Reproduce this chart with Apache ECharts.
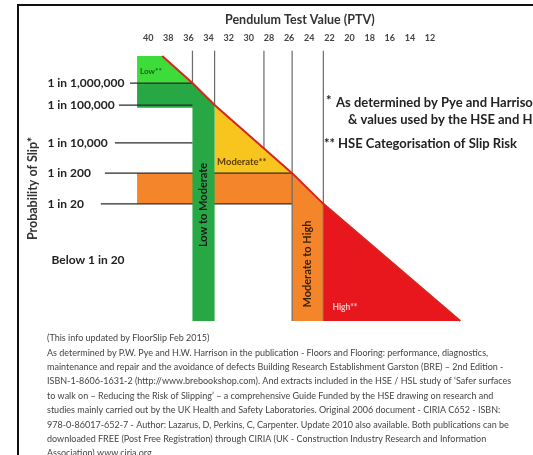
<!DOCTYPE html>
<html>
<head>
<meta charset="utf-8">
<script src="https://cdn.jsdelivr.net/npm/echarts@6/dist/echarts.min.js"></script>
<style>
  html, body { margin: 0; padding: 0; background: #fff; }
  #chart { width: 533px; height: 455px; }
</style>
</head>
<body>
<div id="chart"></div>
<script>
// PTV tick labels along the top
var ptvTicks = [40, 38, 36, 34, 32, 30, 28, 26, 24, 22, 20, 18, 16, 14, 12];

// probability levels (y is a 0..10 schematic scale)
var levelNames = ['1 in 1,000,000', '1 in 100,000', '1 in 10,000', '1 in 200', '1 in 20'];
var levelValues = [8.98, 8.15, 6.72, 5.58, 4.42];
var levelLineFrom = [41.8, 42.9, 43.3, 44.3, 44.7];
var levelLineTo = [35.6, 35.6, 35.6, 25.7, 25.7];

// PTV boundary lines and where they stop
var boundaryPTV = [35.6, 33.4, 28.5, 25.7, 22.6];
var boundaryEnd = [8.98, 8.15, 6.51, 0, 0];

// slip risk curve (PTV, level)
var slipCurve = [[38.6, 10], [35.6, 8.98], [33.4, 8.15], [25.7, 5.58], [22.6, 4.42], [9.0, 0]];

// coloured zones (PTV, level)
var zoneLow = [[41.1, 10], [38.6, 10], [35.6, 8.98], [41.1, 8.98]];
var zoneLowMod = [[41.1, 8.98], [35.6, 8.98], [33.4, 8.15], [33.4, 0], [35.6, 0], [35.6, 8.05], [41.1, 8.05]];
var zoneMod = [[33.4, 8.15], [25.7, 5.58], [33.4, 5.58]];
var zoneModHigh = [[41.1, 5.58], [25.7, 5.58], [22.6, 4.42], [22.6, 0], [25.7, 0], [25.7, 4.42], [41.1, 4.42]];
var zoneHigh = [[22.6, 4.42], [9.0, 0], [22.6, 0]];

var noteText = [
  '(This info updated by FloorSlip Feb 2015)',
  'As determined by P.W. Pye and H.W. Harrison in the publication - Floors and Flooring: performance, diagnostics,',
  'maintenance and repair and the avoidance of defects Building Research Establishment Garston (BRE) \u2013 2nd Edition -',
  'ISBN-1-8606-1631-2 (http://www.brebookshop.com). And extracts included in the HSE / HSL study of \u2018Safer surfaces',
  'to walk on \u2013 Reducing the Risk of Slipping\u2019 \u2013 a comprehensive Guide Funded by the HSE drawing on research and',
  'studies mainly carried out by the UK Health and Safety Laboratories. Original 2006 document - CIRIA C652 - ISBN:',
  '978-0-86017-652-7 - Author: Lazarus, D, Perkins, C, Carpenter. Update 2010 also available. Both publications can be',
  'downloaded FREE (Post Free Registration) through CIRIA (UK - Construction Industry Research and Information',
  'Association) www.ciria.org'
];

var FONT = 'Lato, "Open Sans", sans-serif';

function polySeries(zones, colors, z) {
  return {
    type: 'custom',
    z: z,
    silent: true,
    data: zones.map(function (p) { return p[0]; }),
    renderItem: function (params, api) {
      var pts = zones[params.dataIndex].map(function (p) { return api.coord(p); });
      return { type: 'polygon', shape: { points: pts }, style: { fill: colors[params.dataIndex] } };
    }
  };
}

function levelLineSeries(idx, z) {
  return {
    type: 'custom',
    z: z,
    silent: true,
    data: idx.map(function (i) { return [levelLineFrom[i], levelValues[i]]; }),
    renderItem: function (params, api) {
      var i = idx[params.dataIndex];
      var a = api.coord([levelLineFrom[i], levelValues[i]]);
      var b = api.coord([levelLineTo[i], levelValues[i]]);
      return { type: 'line', shape: { x1: a[0], y1: a[1], x2: b[0], y2: b[1] },
        style: { stroke: '#2a2a2a', lineWidth: 1.2 } };
    }
  };
}

function note(x, y, text) {
  return { type: 'text', x: x, y: y, style: { text: text, fontFamily: FONT,
    fontSize: 13, fontWeight: 'bold', fill: '#222', verticalAlign: 'middle' } };
}

var chart = echarts.init(document.getElementById('chart'));

var option = {
  animation: false,
  title: {
    text: 'Pendulum Test Value (PTV)',
    left: 220, top: 8,
    textStyle: { fontFamily: FONT, fontSize: 12.5, fontWeight: 'bold', color: '#333' }
  },
  grid: { left: 128, top: 56, width: 362.5, height: 265 },
  xAxis: {
    type: 'value', position: 'top', inverse: true,
    min: 6, max: 42, interval: 2,
    axisLine: { show: false }, axisTick: { show: false }, splitLine: { show: false },
    axisLabel: {
      margin: 13, fontFamily: FONT, fontSize: 9, fontWeight: 'bold', color: '#444',
      formatter: function (v) { return ptvTicks.indexOf(v) >= 0 ? String(v) : ''; }
    }
  },
  yAxis: {
    type: 'value', min: 0, max: 10,
    axisLine: { show: false }, axisTick: { show: false }, splitLine: { show: false },
    axisLabel: { show: false },
    name: 'Probability of Slip*', nameLocation: 'middle', nameRotate: 90, nameGap: 89,
    nameTextStyle: { fontFamily: FONT, fontSize: 12.5, fontWeight: 'bold', color: '#333' }
  },
  graphic: [
    { type: 'rect', shape: { x: 18, y: 5, width: 700, height: 600 },
      style: { fill: 'none', stroke: '#111', lineWidth: 2 }, z: 100 },
    note(326, 101, '*'),
    note(336, 103, 'As determined by Pye and Harrison'),
    note(348, 120, '& values used by the HSE and HSL'),
    note(324, 144, '**'),
    note(338, 144, 'HSE Categorisation of Slip Risk'),
    { type: 'text', x: 47, y: 331, style: { text: noteText.join('\n'), fontFamily: FONT,
      fontSize: 9, fill: '#444', lineHeight: 14.4 } }
  ],
  series: [
    polySeries([zoneLow, zoneModHigh, zoneMod, zoneHigh], ['#3ddc3a', '#f5852b', '#f8c41e', '#e8171e'], 1),
    levelLineSeries([3, 4], 2),
    polySeries([zoneLowMod], ['#27a845'], 3),
    levelLineSeries([0, 1, 2], 4),
    {
      type: 'custom', z: 4, silent: true,
      data: boundaryPTV.map(function (v, i) { return [v, boundaryEnd[i]]; }),
      renderItem: function (params, api) {
        var a = api.coord([api.value(0), 10.2]);
        var b = api.coord([api.value(0), api.value(1)]);
        return { type: 'line', shape: { x1: a[0], y1: a[1], x2: b[0], y2: b[1] },
          style: { stroke: '#6a6a6a', lineWidth: 1.2 } };
      }
    },
    {
      type: 'line', z: 5, silent: true, clip: false,
      data: slipCurve, showSymbol: false,
      lineStyle: { color: '#d8241e', width: 2 }
    },
    {
      // level names on the left
      type: 'custom', z: 6, silent: true,
      data: levelValues.map(function (v) { return [50, v]; }).concat([[49.6, 2.3]]),
      renderItem: function (params, api) {
        var p = api.coord([api.value(0), api.value(1)]);
        var t = params.dataIndex < levelNames.length ? levelNames[params.dataIndex] : 'Below 1 in 20';
        return { type: 'text', x: p[0], y: p[1],
          style: { text: t, fontFamily: FONT, fontSize: 12, fontWeight: 'bold', fill: '#222',
            align: 'left', verticalAlign: 'middle' } };
      }
    },
    {
      // zone names
      type: 'custom', z: 6, silent: true,
      data: [
        { value: [40.8, 9.4], name: 'Low**' },
        { value: [33.15, 6.0], name: 'Moderate**' },
        { value: [34.5, 4.38], name: 'Low to Moderate' },
        { value: [24.15, 2.15], name: 'Moderate to High' },
        { value: [21.7, 0.5], name: 'High**' }
      ],
      renderItem: function (params, api) {
        var p = api.coord([api.value(0), api.value(1)]);
        var looks = [
          { fill: '#1d5e1d', size: 8, rot: 0, align: 'left' },
          { fill: '#5b3e00', size: 9.5, rot: 0, align: 'left' },
          { fill: '#1a1a1a', size: 11, rot: Math.PI / 2, align: 'center' },
          { fill: '#3a2200', size: 11, rot: Math.PI / 2, align: 'center' },
          { fill: '#f7c4c0', size: 8.5, rot: 0, align: 'left' }
        ][params.dataIndex];
        var names = ['Low**', 'Moderate**', 'Low to Moderate', 'Moderate to High', 'High**'];
        return { type: 'text', x: p[0], y: p[1], rotation: looks.rot,
          style: { text: names[params.dataIndex], fontFamily: FONT, fontSize: looks.size, fontWeight: 'bold',
            fill: looks.fill, align: looks.align, verticalAlign: 'middle' } };
      }
    }
  ]
};

chart.setOption(option);
</script>
</body>
</html>
